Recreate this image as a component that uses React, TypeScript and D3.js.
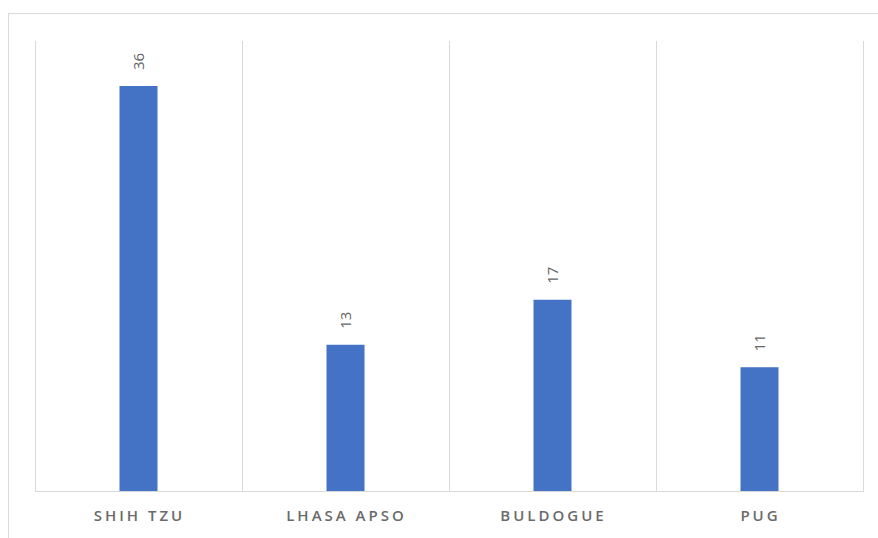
import React from "react";
import * as d3 from "d3";

const categories = ["SHIH TZU", "LHASA APSO", "BULDOGUE", "PUG"];
const values = [36, 13, 17, 11];
const yMax = 40;

export default function App() {
  const W = 878, H = 538;
  const left = 35, right = 863, top = 41, bottom = 491;
  const x = d3.scaleBand<string>().domain(categories).range([left, right]).paddingInner(0).paddingOuter(0);
  const y = d3.scaleLinear().domain([0, yMax]).range([bottom, top]);
  const barW = 38;
  const gridX = categories.map((c) => x(c) as number).concat([right]);
  return (
    <svg width={W} height={H} style={{ position: "absolute", left: 0, top: 0 }}>
      <rect x={0} y={0} width={W} height={H} fill="#fff" />
      <rect x={8.5} y={13.5} width={W} height={H} fill="none" stroke="#d9d9d9" strokeWidth={1} />
      {gridX.map((gx, i) => (
        <line key={i} x1={gx + 0.5} x2={gx + 0.5} y1={top} y2={bottom} stroke="#d9d9d9" strokeWidth={1} />
      ))}
      <line x1={left} x2={right + 1} y1={bottom + 0.5} y2={bottom + 0.5} stroke="#d9d9d9" strokeWidth={1} />
      {categories.map((c, i) => {
        const cx = (x(c) as number) + x.bandwidth() / 2;
        const yt = y(values[i]);
        return (
          <g key={c}>
            <rect x={cx - barW / 2} y={yt} width={barW} height={bottom - yt} fill="#4472c4" />
            <text
              transform={`translate(${cx + 5.5},${yt - 16}) rotate(-90)`}
              fontFamily="Open Sans, Liberation Sans, sans-serif"
              fontSize={15}
              fill="#666"
              textAnchor="start"
            >
              {values[i]}
            </text>
            <text
              x={cx + 1}
              y={521}
              textAnchor="middle"
              fontFamily="Open Sans, Liberation Sans, sans-serif"
              fontSize={15}
              fontWeight={600}
              fill="#6a6a6a"
              letterSpacing={3}
            >
              {c}
            </text>
          </g>
        );
      })}
    </svg>
  );
}
